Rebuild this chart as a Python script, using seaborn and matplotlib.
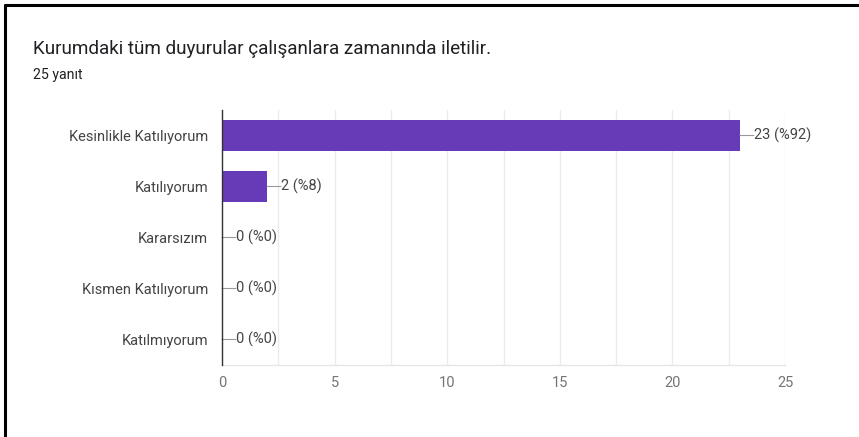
import pandas as pd
import matplotlib.pyplot as plt
import seaborn as sns

# Veriler
secenekler = ["Kesinlikle Katılıyorum", "Katılıyorum", "Kararsızım",
              "Kısmen Katılıyorum", "Katılmıyorum"]
yanit_sayisi = [23, 2, 0, 0, 0]
yuzdeler = ["%92", "%8", "%0", "%0", "%0"]
x_ticks = [0, 5, 10, 15, 20, 25]

mor = "#673ab7"
sns.set_theme(style="white")
plt.rcParams["font.family"] = ["Roboto", "DejaVu Sans"]

df = pd.DataFrame({"secenek": secenekler, "sayi": yanit_sayisi})

fig = plt.figure(figsize=(8.59, 4.37), dpi=100)
ax = fig.add_axes([222 / 859, 1 - 365 / 437, (785 - 222) / 859, (365 - 110) / 437])

sns.barplot(data=df, x="sayi", y="secenek", orient="h", color=mor,
            width=0.62, saturation=1, ax=ax, zorder=3, linewidth=0)

ax.set_xlim(0, 25)
ax.set_ylim(4.5, -0.5)
grid_x = [i * 2.5 for i in range(11)]
ax.set_xticks(grid_x)
ax.set_xticklabels([str(int(v)) if v in x_ticks else "" for v in grid_x])
ax.xaxis.grid(True, color="#ebebeb", linewidth=1, zorder=0)
ax.set_axisbelow(True)
ax.set_xlabel("")
ax.set_ylabel("")
ax.tick_params(axis="x", length=0, labelsize=10.5, colors="#757575", pad=8)
ax.tick_params(axis="y", length=0, labelsize=10.5, colors="#444444", pad=10)

for s in ["top", "right"]:
    ax.spines[s].set_visible(False)
ax.spines["left"].set_color("#333333")
ax.spines["left"].set_linewidth(1)
ax.spines["left"].set_zorder(5)
ax.spines["bottom"].set_color("#e6e6e6")
ax.spines["bottom"].set_linewidth(1)

# Değer etiketleri
for i, (v, p) in enumerate(zip(yanit_sayisi, yuzdeler)):
    ax.annotate("", xy=(v, i), xytext=(10, 0), textcoords="offset points",
                arrowprops=dict(arrowstyle="-", color="#999999", lw=0.8,
                                shrinkA=0, shrinkB=0))
    ax.annotate(f"{v} ({p})", xy=(v, i), xytext=(10, 0), textcoords="offset points",
                ha="left", va="center", fontsize=10.5, color="#444444")

# Başlık
fig.text(33 / 859, 1 - 49 / 437, "Kurumdaki tüm duyurular çalışanlara zamanında iletilir.",
         fontsize=13.6, color="#202124", va="center", ha="left")
fig.text(33 / 859, 1 - 75 / 437, "25 yanıt", fontsize=10.2, color="#202124",
         va="center", ha="left")

# Ekran görüntüsü çerçevesi
fig.add_artist(plt.Line2D([5 / 859, 5 / 859], [0, 1 - 5 / 437], color="black", lw=2.2))
fig.add_artist(plt.Line2D([5 / 859, 1], [1 - 5 / 437, 1 - 5 / 437], color="black", lw=2.2))

fig.savefig("out.png", dpi=100)
